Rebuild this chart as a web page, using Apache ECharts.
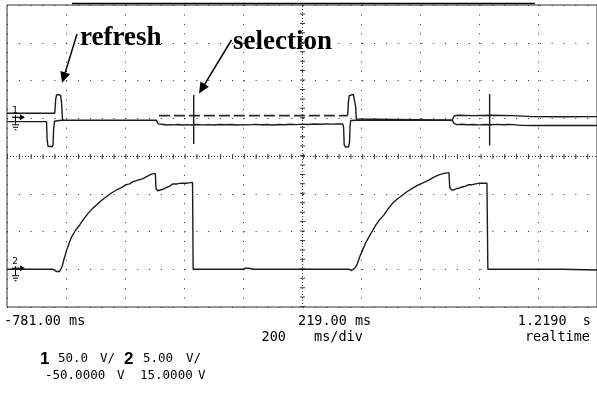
<!DOCTYPE html>
<html><head><meta charset="utf-8">
<script src="https://cdn.jsdelivr.net/npm/echarts@6/dist/echarts.min.js"></script>
<style>html,body{margin:0;padding:0;background:#fff}#c{width:597px;height:395px}</style>
</head><body><div id="c"></div>
<script>
// ---------- data ----------
const timeRange = [-781, 1219];      // ms  (200 ms/div, 10 div)
const ch1Range = [-250, 150];        // V   (50 V/div, offset -50 V)
const ch2Range = [-5, 35];           // V   (5 V/div, offset 15 V)
const divX = [0, 10];
const divY = [-4, 4];

// channel 2 trace [ms, V]
const ch2 = [
  [-781,0],[-626,0],[-614,-0.3],[-603,-0.3],[-594,0.4],[-588,1.3],[-579,2.5],[-570,3.5],[-562,4.3],
  [-548,5.2],[-534,5.9],[-520,6.7],[-506,7.4],[-492,8.0],[-478,8.5],[-461,9.1],[-444,9.6],[-427,10.1],
  [-410,10.5],[-393,10.8],[-377,11.2],[-365,11.3],[-354,11.6],[-337,11.8],[-320,12.0],[-306,12.3],
  [-292,12.6],[-278,12.7],[-276,10.7],[-270,10.4],[-264,10.4],[-252,10.6],[-241,10.8],[-230,11.0],
  [-219,11.3],[-205,11.3],[-191,11.4],[-170,11.4],[-152,11.5],[-150,0],[-145,0],[20,0],[28,0.15],
  [45,0.1],[52,0],[379,0],[386,-0.2],[392,-0.35],[400,0.2],[407,0.8],[415,1.7],[424,2.5],[435,3.5],
  [446,4.3],[458,5.1],[469,5.85],[483,6.6],[497,7.2],[511,8.0],[525,8.7],[542,9.3],[559,9.8],
  [576,10.3],[593,10.7],[610,11.1],[627,11.4],[638,11.6],[649,11.8],[666,12.2],[683,12.5],[700,12.7],
  [717,12.8],[720,10.8],[727,10.5],[734,10.5],[742,10.7],[750,10.7],[761,10.9],[773,11.0],[785,11.2],
  [796,11.2],[820,11.4],[846,11.4],[849,0],[855,-0.1],[860,0],[1100,0],[1102,-0.1],[1219,-0.1]
];

// channel 1 traces [ms, V]
const ch1Lower = [
  [-781,-4.5],[-647,-4.5],[-645,-28],[-642,-37],[-638,-37.7],[-628,-37.7],[-625,-35],[-623,-15],
  [-620,-4],[-605,-3],[-590,-2.6],[-275,-2.6],[-268,-7.5],[-262,-8.5],[-250,-8.2],[-240,-9],
  [-228,-8.4],[-215,-8.8],[-200,-8.3],[-185,-9],[-170,-8.5],[-155,-8.9],[-140,-8.2],[-120,-8.8],
  [-100,-8.4],[-80,-9],[-60,-8.3],[-40,-8.7],[-20,-8.2],[0,-8.9],[20,-8.4],[40,-8.8],[60,-8.1],
  [80,-8.7],[100,-8.3],[120,-8.9],[140,-8.2],[160,-8.6],[180,-8.0],[200,-8.5],[220,-7.8],[240,-8.2],
  [260,-7.6],[280,-8.0],[300,-7.5],[320,-7.8],[340,-7.4],[357,-7.6],[360,-12],[362,-35],[366,-38],
  [377,-38],[380,-32],[382,-10],[384,-3],[405,-2.6],[728,-2.6],[735,-7],[745,-8.5],[760,-8],
  [780,-8.6],[800,-8.2],[820,-8.8],[840,-8.3],[860,-8.7],[880,-8.1],[900,-8.6],[920,-8.2],[935,-8.4],
  [940,-9.5],[960,-9.5],[1000,-9.7],[1050,-9.5],[1100,-9.7],[1150,-9.5],[1219,-9.6]
];
const ch1Upper = [
  [-781,6.6],[-619,6.6],[-616,25],[-613,30.9],[-606,31.5],[-599,30],[-596,20],[-593,-1],[-590,-2.6]
];
const ch1Upper2 = [
  [374,4],[376,20],[379,30],[383,31.5],[393,31.5],[398,29],[401,15],[403,-1],[406,-2.6],[728,-2.6],
  [735,3],[745,4],[800,3.5],[860,4],[935,3.5],[940,2],[1000,2.2],[1100,2],[1219,2.1]
];
const ch1Dashed = [[-266,3.5],[374,3.5]];
const cursor1 = [[-148,31],[-148,-34]];
const cursor2 = [[855,32],[855,-36]];

const timeLabels = ['-781.00 ms', '219.00 ms', '1.2190  s'];
const scaleLabels = ['200', 'ms/div', 'realtime'];
const chanLabels = [['1','50.0','V/','-50.0000','V'], ['2','5.00','V/','15.0000','V']];
const notes = ['refresh', 'selection'];

// ---------- chart ----------
const chart = echarts.init(document.getElementById('c'), null, {renderer:'canvas'});
const G = {left:7, top:5, width:592, height:302};
const dark = '#1c1c1c';
const base = {type:'line', symbol:'none', showSymbol:false, silent:true, xAxisIndex:0,
  emphasis:{disabled:true}, lineStyle:{color:dark, width:1.4}};

chart.setOption({
  animation:false,
  backgroundColor:'#fff',
  grid:{left:G.left, top:G.top, width:G.width, height:G.height, show:true, borderColor:'#333', borderWidth:1, containLabel:false},
  xAxis:[
    {type:'value', min:timeRange[0], max:timeRange[1], show:false},
    {type:'value', min:divX[0], max:divX[1], interval:1, axisLine:{show:false}, axisTick:{show:false}, axisLabel:{show:false},
     splitLine:{show:true, lineStyle:{color:'#2e2e2e', width:1, type:[1, 302/32 - 1]}}}
  ],
  yAxis:[
    {type:'value', min:ch1Range[0], max:ch1Range[1], show:false},
    {type:'value', min:ch2Range[0], max:ch2Range[1], show:false},
    {type:'value', min:divY[0], max:divY[1], interval:1, axisLine:{show:false}, axisTick:{show:false}, axisLabel:{show:false},
     splitLine:{show:true, lineStyle:{color:'#2e2e2e', width:1, type:[1, 592/50 - 1]}}}
  ],
  series:[
    {...base, type:'line', xAxisIndex:1, yAxisIndex:2, data:[[5,0]], lineStyle:{opacity:0},
     markLine:{silent:true, symbol:'none', label:{show:false}, animation:false, emphasis:{disabled:true},
       data:[
         {xAxis:5, lineStyle:{color:'#3a3a3a', width:1, type:[1,2]}},
         {yAxis:0, lineStyle:{color:'#3a3a3a', width:1, type:[1,2]}},
       ]}},
    {...base, type:'line', xAxisIndex:1, yAxisIndex:2, data:[[5,0]], lineStyle:{opacity:0},
     markLine:{silent:true, symbol:'none', label:{show:false}, animation:false, emphasis:{disabled:true},
       data:[
         {xAxis:5, lineStyle:{color:'#3a3a3a', width:5, type:[1, 302/32 - 1]}},
         {yAxis:0, lineStyle:{color:'#3a3a3a', width:5, type:[1, 592/50 - 1]}},
       ]}},
    {...base, yAxisIndex:1, data:ch2},
    {...base, yAxisIndex:0, data:ch1Lower},
    {...base, yAxisIndex:0, data:ch1Upper},
    {...base, yAxisIndex:0, data:ch1Upper2},
    {...base, yAxisIndex:0, data:ch1Dashed, lineStyle:{color:'#2a2a2a', width:1.6, type:[11,4]}},
    {...base, yAxisIndex:0, data:cursor1, lineStyle:{color:dark, width:1.4}},
    {...base, yAxisIndex:0, data:cursor2, lineStyle:{color:dark, width:1.4}}
  ]
});

// ---------- annotations / decorations ----------
function txt(text, x, y, font, align) {
  return {type:'text', x:x, y:y, silent:true,
    style:{text:text, font:font, fill:'#000', align:align||'left', textAlign:align||'left',
      verticalAlign:'middle', textVerticalAlign:'middle'}};
}
function arrow(sx, sy, tx, ty, L, W) {
  const dx = tx - sx, dy = ty - sy, len = Math.hypot(dx, dy);
  const ux = dx/len, uy = dy/len, nx = -uy, ny = ux;
  const bx = tx - ux*L, by = ty - uy*L;
  return [
    {type:'polyline', silent:true, shape:{points:[[sx,sy],[bx+ux*2,by+uy*2]]}, style:{stroke:'#000', lineWidth:1.5, fill:null}},
    {type:'polygon', silent:true, shape:{points:[[tx,ty],[bx+nx*W,by+ny*W],[bx-nx*W,by-ny*W]]}, style:{fill:'#000'}}
  ];
}
function marker(label, p) {
  const x = p[0], y = p[1];
  return [
    txt(label, x+8, y-8, '9px "DejaVu Sans"', 'center'),
    {type:'polyline', silent:true, shape:{points:[[x+5,y-1],[x+14,y-1]]}, style:{stroke:'#000', lineWidth:1.2, fill:null}},
    {type:'polygon', silent:true, shape:{points:[[x+18,y-1],[x+13,y-4],[x+13,y+2]]}, style:{fill:'#000'}},
    {type:'polyline', silent:true, shape:{points:[[x+8.5,y-3],[x+8.5,y+6]]}, style:{stroke:'#000', lineWidth:1, fill:null}},
    {type:'polyline', silent:true, shape:{points:[[x+5,y+6.5],[x+12,y+6.5]]}, style:{stroke:'#000', lineWidth:1, fill:null}},
    {type:'polyline', silent:true, shape:{points:[[x+6,y+9],[x+11,y+9]]}, style:{stroke:'#000', lineWidth:1, fill:null}},
    {type:'polyline', silent:true, shape:{points:[[x+7.5,y+11.5],[x+9.5,y+11.5]]}, style:{stroke:'#000', lineWidth:1, fill:null}}
  ];
}

const p1 = chart.convertToPixel({xAxisIndex:0, yAxisIndex:0}, [timeRange[0], 0]);
const p2 = chart.convertToPixel({xAxisIndex:0, yAxisIndex:1}, [timeRange[0], 0]);
const mono = '13.5px "DejaVu Sans Mono"';
const mono2 = '12.5px "DejaVu Sans Mono"';
const els = [].concat(
  [{type:'polyline', silent:true, shape:{points:[[72,3.5],[535,3.5]]}, style:{stroke:'#000', lineWidth:1.6, fill:null}}],
  [txt(notes[0], 80, 38, 'bold 27px "Liberation Serif"'), txt(notes[1], 233, 42, 'bold 27px "Liberation Serif"')],
  arrow(77, 34, 62, 83, 11, 5),
  arrow(231.5, 40, 199, 93.5, 11, 5),
  marker(chanLabels[0][0], p1),
  marker(chanLabels[1][0], p2),
  [
    txt(timeLabels[0], 4, 321, mono),
    txt(timeLabels[1], 298, 321, mono),
    txt(timeLabels[2], 591, 321, mono, 'right'),
    txt(scaleLabels[0], 286, 337, mono, 'right'),
    txt(scaleLabels[1], 314, 337, mono),
    txt(scaleLabels[2], 590, 337, mono, 'right'),
    txt(chanLabels[0][0], 40, 359, 'bold 17px "Liberation Sans"'),
    txt(chanLabels[0][1], 58, 359, mono2),
    txt(chanLabels[0][2], 100, 359, mono2),
    txt(chanLabels[1][0], 124, 359, 'bold 17px "Liberation Sans"'),
    txt(chanLabels[1][1], 143, 359, mono2),
    txt(chanLabels[1][2], 186, 359, mono2),
    txt(chanLabels[0][3], 45, 376, mono2),
    txt(chanLabels[0][4], 117, 376, mono2),
    txt(chanLabels[1][3], 140, 376, mono2),
    txt(chanLabels[1][4], 198, 376, mono2)
  ]
);
chart.setOption({graphic:{elements:els}});
</script></body></html>
